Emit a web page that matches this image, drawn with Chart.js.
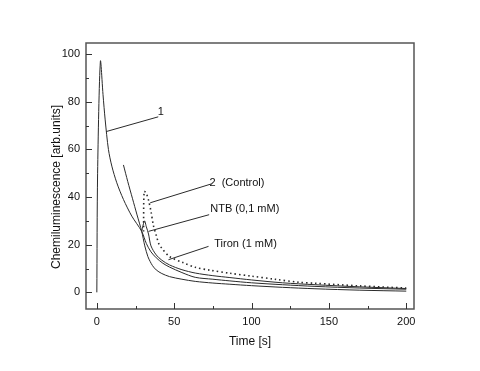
<!DOCTYPE html>
<html>
<head>
<meta charset="utf-8">
<script src="https://cdn.jsdelivr.net/npm/chart.js@4/dist/chart.umd.min.js"></script>
<style>
  html, body { margin: 0; padding: 0; background: #fff; }
  #wrap { width: 480px; height: 371px; position: relative; }
</style>
</head>
<body>
<div id="wrap"><canvas id="cl-chart"></canvas></div>
<script>
// Curve 1 (main flash)
const curve1Time = [0, 0.5, 2.3, 4, 5.4, 7.5, 9.7, 12.9, 17.2, 22.6, 29, 32, 35, 38.4, 42.7, 47, 55, 63.6, 75, 86, 100, 120, 141, 170, 200];
const curve1Value = [0, 50, 97, 83, 72.4, 60, 53, 46, 39, 32, 25.6, 20.5, 17, 14.5, 12.2, 10.6, 8.3, 6.3, 5.5, 4.8, 4, 3.2, 2.5, 1.8, 1.3];

// Control (dotted)
const controlTime = [30.2, 30.6, 32, 33.4, 35, 36.6, 38.4, 40, 42, 47, 55.6, 63.6, 73, 86, 100, 115, 131, 141, 170, 200];
const controlValue = [25.5, 42.4, 41.5, 38.7, 34, 28, 24, 20.5, 18.5, 15, 12.5, 10.5, 9.3, 8, 6.8, 5.5, 4.2, 3.8, 2.7, 1.8];

// NTB (0,1 mM)
const ntbTime = [29, 30.8, 32, 33.4, 35, 38.4, 42, 47, 55, 63.6, 75, 86, 100, 120, 141, 170, 200];
const ntbValue = [25.6, 30, 27.5, 24.5, 19.5, 15.7, 13.5, 11.5, 9.5, 8.1, 7, 6.2, 5.2, 4, 3.2, 2.3, 1.6];

// Tiron (1 mM)
const tironTime = [17.2, 20, 23, 26, 29, 31, 33, 34.5, 36, 38.4, 42, 47, 55, 63.6, 75, 86, 100, 120, 141, 170, 200];
const tironValue = [53.5, 46.5, 39.5, 32.5, 25.6, 19.5, 15, 12.9, 11.2, 9.4, 7.9, 6.6, 5.5, 4.6, 3.9, 3.4, 2.8, 2.1, 1.5, 0.9, 0.5];

// Axis ticks
const xMajorTicks = [0, 50, 100, 150, 200];
const xMinorTicks = [25, 75, 125, 175];
const yMajorTicks = [0, 20, 40, 60, 80, 100];
const yMinorTicks = [10, 30, 50, 70, 90];

// Curve labels: text anchor and leader line, in data units
const curveLabels = [
    { text: '1', tx: 41.3, ty: 75.6, align: 'center', from: [6, 67.5], to: [39.7, 73.7] },
    { text: '2  (Control)', tx: 72.8, ty: 46.1, align: 'left', from: [34.5, 37.6], to: [73.9, 45.5] },
    { text: 'NTB (0,1 mM)', tx: 73.3, ty: 35, align: 'left', from: [33.4, 25.6], to: [72.6, 32.6] },
    { text: 'Tiron (1 mM)', tx: 75.9, ty: 20.3, align: 'left', from: [46.3, 13.7], to: [72.2, 19.3] }
];

const FONT = "'Liberation Sans', Arial, sans-serif";
const INK = '#2a2a2a';

function toPoints(xs, ys) {
    return xs.map((x, i) => ({ x: x, y: ys[i] }));
}

const lineStyle = {
    showLine: true,
    pointRadius: 0,
    borderWidth: 1,
    borderColor: INK,
    fill: false,
    tension: 0.3
};

// Frame, inward ticks, labels and axis titles
const decorations = {
    id: 'decorations',
    afterDraw(chart) {
        const ctx = chart.ctx;
        const a = chart.chartArea;
        const xs = chart.scales.x;
        const ys = chart.scales.y;
        ctx.save();

        ctx.strokeStyle = '#555';
        ctx.lineWidth = 1.5;
        ctx.strokeRect(a.left, a.top, a.right - a.left, a.bottom - a.top);

        ctx.lineWidth = 1;
        ctx.strokeStyle = '#333';
        ctx.beginPath();
        xMajorTicks.forEach(v => { const p = Math.round(xs.getPixelForValue(v)) + 0.5; ctx.moveTo(p, a.bottom); ctx.lineTo(p, a.bottom - 6); });
        xMinorTicks.forEach(v => { const p = Math.round(xs.getPixelForValue(v)) + 0.5; ctx.moveTo(p, a.bottom); ctx.lineTo(p, a.bottom - 3); });
        yMajorTicks.forEach(v => { const p = Math.round(ys.getPixelForValue(v)) + 0.5; ctx.moveTo(a.left, p); ctx.lineTo(a.left + 6, p); });
        yMinorTicks.forEach(v => { const p = Math.round(ys.getPixelForValue(v)) + 0.5; ctx.moveTo(a.left, p); ctx.lineTo(a.left + 3, p); });
        ctx.stroke();

        // leaders and curve labels
        ctx.strokeStyle = INK;
        ctx.beginPath();
        curveLabels.forEach(l => {
            ctx.moveTo(xs.getPixelForValue(l.from[0]), ys.getPixelForValue(l.from[1]));
            ctx.lineTo(xs.getPixelForValue(l.to[0]), ys.getPixelForValue(l.to[1]));
        });
        ctx.stroke();

        ctx.fillStyle = '#111';
        ctx.font = '11px ' + FONT;
        ctx.textBaseline = 'middle';
        curveLabels.forEach(l => {
            ctx.textAlign = l.align;
            ctx.fillText(l.text, xs.getPixelForValue(l.tx), ys.getPixelForValue(l.ty));
        });

        // axis titles
        ctx.font = '12px ' + FONT;
        ctx.textAlign = 'center';
        ctx.fillText('Time [s]', (a.left + a.right) / 2, 342);
        ctx.translate(57, 187);
        ctx.rotate(-Math.PI / 2);
        ctx.fillText('Chemiluminescence [arb.units]', 0, 0);
        ctx.restore();
    }
};

new Chart(document.getElementById('cl-chart').getContext('2d'), {
    type: 'scatter',
    data: {
        datasets: [
            { ...lineStyle, label: '1', data: toPoints(curve1Time, curve1Value) },
            { ...lineStyle, label: 'Tiron (1 mM)', data: toPoints(tironTime, tironValue) },
            { ...lineStyle, label: 'NTB (0,1 mM)', data: toPoints(ntbTime, ntbValue) },
            { ...lineStyle, label: '2 (Control)', data: toPoints(controlTime, controlValue), borderWidth: 1.6, borderDash: [1.5, 3] }
        ]
    },
    options: {
        responsive: true,
        maintainAspectRatio: false,
        animation: false,
        layout: { padding: { left: 0, top: 43, right: 66, bottom: 0 } },
        plugins: {
            legend: { display: false },
            tooltip: { enabled: false }
        },
        scales: {
            x: {
                type: 'linear',
                min: -7,
                max: 205,
                afterFit: s => { s.height = 62; },
                afterBuildTicks: s => { s.ticks = xMajorTicks.map(v => ({ value: v })); },
                grid: { display: false, drawTicks: false },
                border: { display: false },
                ticks: { color: '#111', padding: 6, maxRotation: 0, font: { family: FONT, size: 11 } }
            },
            y: {
                type: 'linear',
                min: -7,
                max: 104.7,
                afterFit: s => { s.width = 86; },
                afterBuildTicks: s => { s.ticks = yMajorTicks.map(v => ({ value: v })); },
                grid: { display: false, drawTicks: false },
                border: { display: false },
                ticks: { color: '#111', padding: 6, font: { family: FONT, size: 11 } }
            }
        }
    },
    plugins: [decorations]
});
</script>
</body>
</html>
